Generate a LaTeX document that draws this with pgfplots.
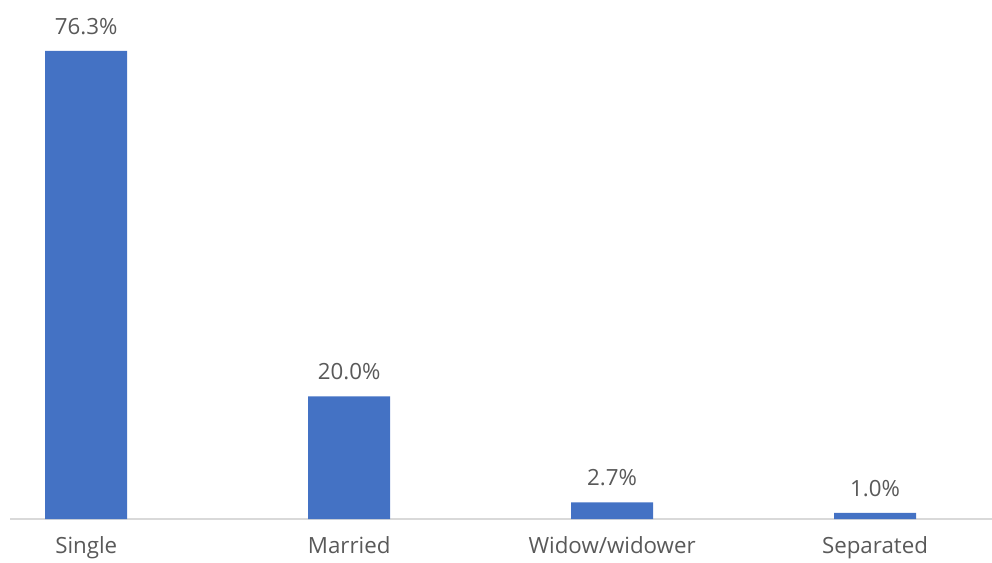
\documentclass[border=0pt]{standalone}
\usepackage{pgfplots}
\pgfplotsset{compat=1.18}
\usepackage{fontspec}
\setmainfont{Open Sans}
\definecolor{barblue}{HTML}{4472C4}
\definecolor{txtgray}{HTML}{595959}
\definecolor{axgray}{HTML}{D9D9D9}
\begin{document}
\begin{tikzpicture}
\useasboundingbox (0,0) rectangle (992pt,562pt);
\clip (0,0) rectangle (992pt,562pt);
\begin{axis}[
  at={(10pt,43pt)}, anchor=south west,
  scale only axis, width=982pt, height=519pt,
  xmin=-0.29, xmax=3.445, ymin=0, ymax=84.6,
  ybar, bar width=82pt,
  axis x line*=bottom, axis y line=none,
  x axis line style={draw=axgray, line width=1.2pt},
  xtick=data, xticklabels={Single,Married,Widow/widower,Separated},
  xtick style={draw=none}, ytick=\empty,
  xticklabel style={font=\fontsize{22.3}{26}\selectfont, text=txtgray, inner sep=0pt, anchor=north, yshift=-13pt},
  /pgf/number format/assume math mode=true,
  nodes near coords={\pgfmathprintnumber[fixed,fixed zerofill,precision=1]{\pgfplotspointmeta}\%},
  nodes near coords style={font=\fontsize{22.3}{26}\selectfont, text=txtgray, inner sep=0pt, anchor=south, yshift=16pt},
]
\addplot[fill=barblue, draw=none] coordinates {(0,76.3) (1,20.0) (2,2.7) (3,1.0)};
\end{axis}
\end{tikzpicture}
\end{document}
